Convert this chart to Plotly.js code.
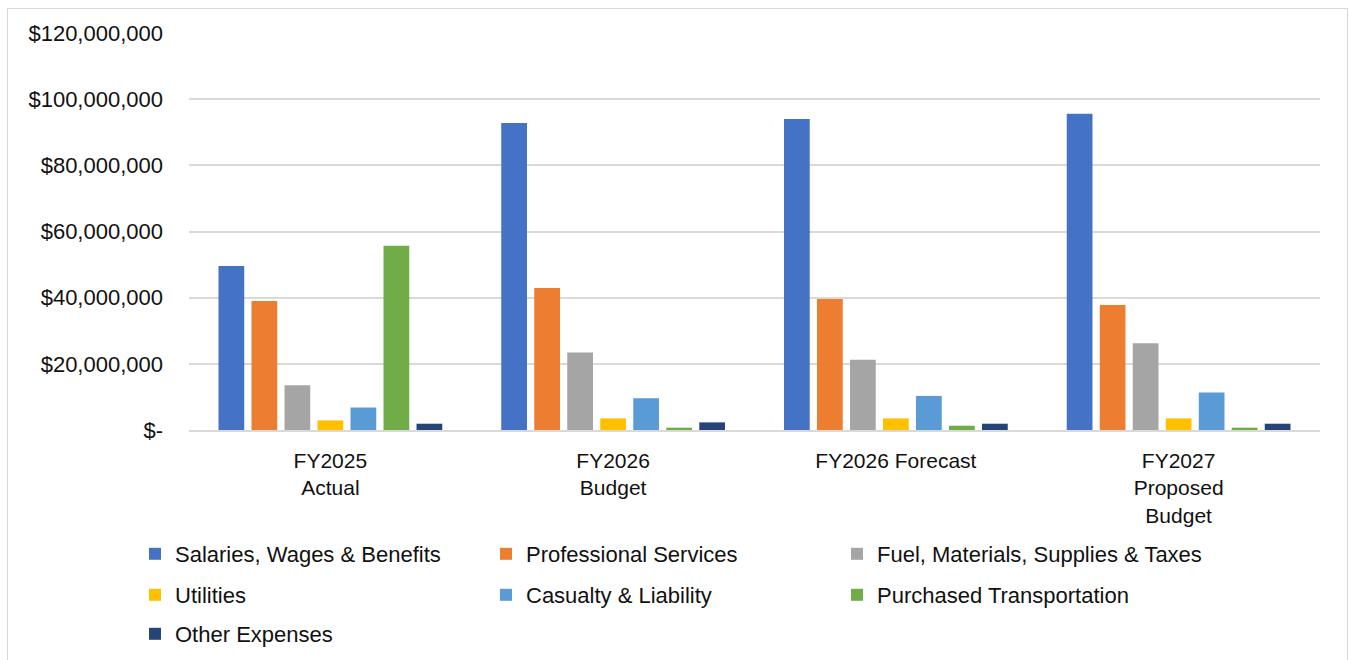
<!DOCTYPE html>
<html>
<head>
<meta charset="utf-8">
<script src="https://cdn.plot.ly/plotly-3.0.1.min.js"></script>
<style>
  html, body { margin: 0; padding: 0; background: #fff; }
  #chart { width: 1349px; height: 660px; }
  #frame { position: absolute; left: 7px; top: 8px; width: 1339px; height: 700px;
           border: 1px solid #d9d9d9; pointer-events: none; }
</style>
</head>
<body>
<div id="chart"></div>
<div id="frame"></div>
<script>
const categories = ["FY2025<br>Actual", "FY2026<br>Budget", "FY2026 Forecast", "FY2027<br>Proposed<br>Budget"];

const salaries     = [49.6e6, 92.8e6, 94.0e6, 95.6e6];
const professional = [39.0e6, 42.9e6, 39.6e6, 37.8e6];
const fuel         = [13.5e6, 23.4e6, 21.2e6, 26.2e6];
const utilities    = [2.9e6, 3.5e6, 3.5e6, 3.5e6];
const casualty     = [6.8e6, 9.6e6, 10.3e6, 11.3e6];
const purchased    = [55.7e6, 0.7e6, 1.3e6, 0.7e6];
const other        = [1.9e6, 2.3e6, 1.9e6, 1.9e6];

const yTicks = [0, 20e6, 40e6, 60e6, 80e6, 100e6, 120e6];
const yTickText = ["$-", "$20,000,000", "$40,000,000", "$60,000,000", "$80,000,000", "$100,000,000", "$120,000,000"];

const series = [
  { name: "Salaries, Wages & Benefits", y: salaries, color: "#4472C4" },
  { name: "Professional Services", y: professional, color: "#ED7D31" },
  { name: "Fuel, Materials, Supplies & Taxes", y: fuel, color: "#A5A5A5" },
  { name: "Utilities", y: utilities, color: "#FFC000" },
  { name: "Casualty & Liability", y: casualty, color: "#5B9BD5" },
  { name: "Purchased Transportation", y: purchased, color: "#70AD47" },
  { name: "Other Expenses", y: other, color: "#264478" }
];

const font = { family: "Liberation Sans, Arial, sans-serif", size: 22, color: "#111" };

// pixel helpers for placing the legend entries under the plot
const plotL = 189, plotR = 1320, plotT = 33, plotB = 430;
const px = x => (x - plotL) / (plotR - plotL);
const py = y => (plotB - y) / (plotB - plotT);

// legend laid out as in the original: 3 columns, 3 rows
const legendCols = [135, 486, 837];
const legendRows = [554, 595, 634];

const traces = [];
const layout = {
  width: 1349,
  height: 660,
  margin: { l: plotL, r: 1349 - plotR, t: plotT, b: 660 - plotB, autoexpand: false },
  paper_bgcolor: "#fff",
  plot_bgcolor: "#fff",
  font: font,
  barmode: "group",
  bargap: 0.183,
  bargroupgap: 0.22,
  xaxis: {
    type: "category",
    showgrid: false,
    showline: true,
    linecolor: "#d9d9d9",
    linewidth: 1.5,
    ticks: "",
    ticklabelstandoff: 11,
    tickfont: Object.assign({}, font, { size: 21 })
  },
  yaxis: {
    range: [0, 120e6],
    tickvals: yTicks,
    ticktext: yTickText,
    showgrid: true,
    gridcolor: "#d9d9d9",
    gridwidth: 1.5,
    zeroline: false,
    showline: false,
    ticks: "",
    ticklabelstandoff: 25,
    tickfont: font
  },
  showlegend: true
};

series.forEach((s, i) => {
  const key = i === 0 ? "legend" : "legend" + (i + 1);
  traces.push({
    type: "bar",
    name: s.name,
    x: categories,
    y: s.y,
    marker: { color: s.color },
    legend: key,
    hoverinfo: "name+y"
  });
  layout[key] = {
    orientation: "h",
    x: px(legendCols[i % 3]), xanchor: "left",
    y: py(legendRows[Math.floor(i / 3)]), yanchor: "middle",
    itemwidth: 30,
    font: font,
    bgcolor: "rgba(0,0,0,0)"
  };
});

Plotly.newPlot("chart", traces, layout, { displayModeBar: false, responsive: false });
</script>
</body>
</html>
